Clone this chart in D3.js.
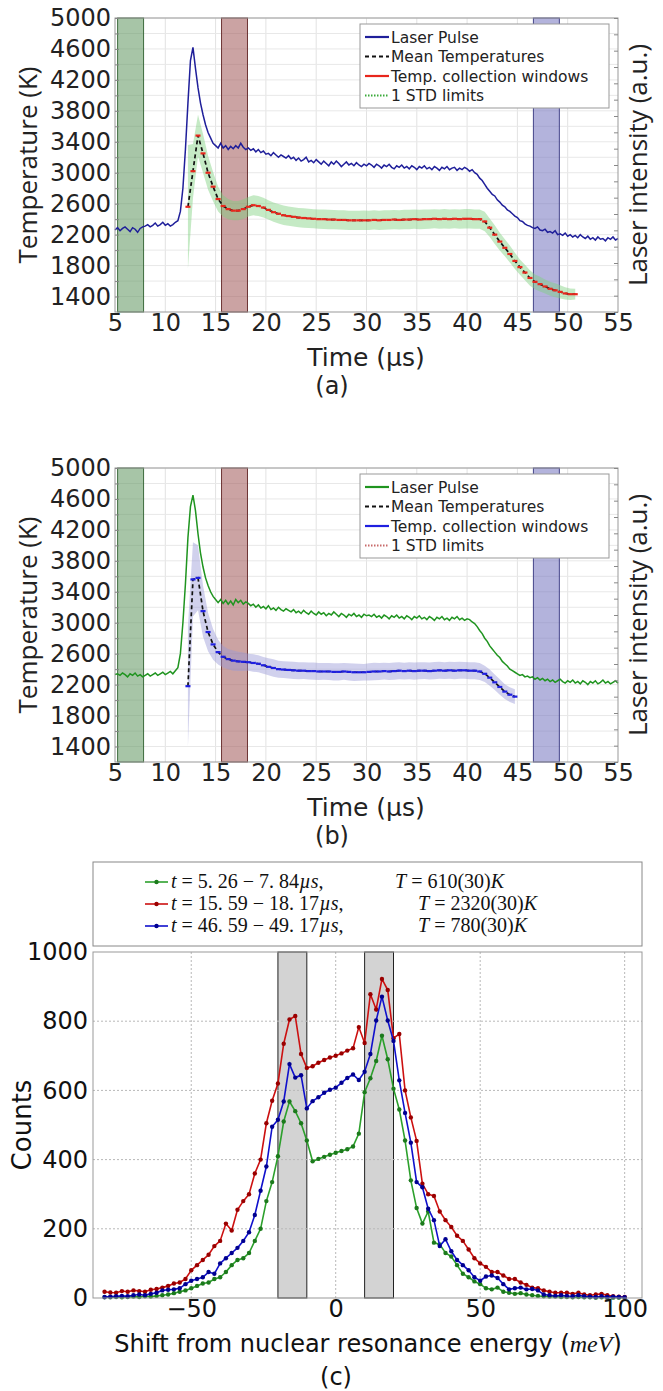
<!DOCTYPE html>
<html>
<head>
<meta charset="utf-8">
<script src="https://cdn.jsdelivr.net/npm/d3@7"></script>
<style>
body { margin: 0; background: #fff; }
svg { display: block; }
</style>
</head>
<body>
<svg id="fig" width="663" height="1391"></svg>
<script>
// ---------------- data ----------------
// laser pulse traces, every 0.25 us from 5 to 55 us (in temperature units of the left axis)
var laserA = [2260, 2290, 2250, 2280, 2300, 2270, 2240, 2290, 2270, 2230, 2280, 2300, 2310, 2330, 2300, 2320, 2350, 2310, 2330, 2360, 2320, 2340, 2310, 2330, 2360, 2380,
    2500, 2800, 3300, 3900, 4450, 4620, 4350, 4100, 3900, 3750, 3620, 3520, 3450, 3380, 3350, 3320, 3380, 3320, 3350, 3300, 3340, 3310, 3350, 3320, 3380, 3330, 3300,
    3320, 3290, 3310, 3270, 3300, 3260, 3280, 3240, 3250, 3220, 3260, 3230, 3200, 3230, 3210, 3190,
    3220, 3180, 3200, 3160, 3190, 3150, 3170, 3200, 3140, 3160, 3130, 3170, 3140, 3110, 3150, 3120, 3090, 3140, 3110, 3150, 3120, 3080, 3110, 3140, 3100, 3120, 3090, 3130, 3100, 3080, 3110, 3090,
    3120, 3100, 3070, 3110, 3090, 3060, 3100, 3080, 3110, 3070, 3050, 3090, 3070, 3100, 3060, 3080, 3050, 3090, 3070, 3040, 3080, 3060, 3090, 3050, 3070, 3040, 3080, 3060, 3030, 3070, 3050, 3080, 3040, 3060, 3070, 3030, 3060, 3040, 3070, 3050,
    3020, 3040, 3000, 2980, 2930, 2900, 2850, 2800,
    2760, 2720, 2700, 2650, 2620, 2580, 2560, 2520, 2500, 2470, 2440, 2420, 2380, 2370, 2340, 2320,
    2310, 2290, 2280, 2300, 2260, 2250, 2270, 2230, 2240, 2220, 2250, 2200, 2210, 2190, 2220, 2180, 2200, 2170, 2190, 2160, 2200, 2170, 2150, 2180, 2140, 2160, 2130, 2170, 2140, 2150, 2120, 2160, 2140, 2170, 2130, 2150];

var laserB = [2330, 2340, 2320, 2350, 2330, 2300, 2340, 2320, 2350, 2310, 2330, 2300, 2320, 2340, 2310, 2330, 2350, 2320, 2340, 2360, 2330, 2350, 2370, 2340, 2380, 2420,
    2600, 3000, 3500, 4100, 4500, 4650, 4450, 4150, 3900, 3720, 3580, 3480, 3400, 3340, 3300, 3260, 3300, 3250, 3290, 3240, 3280, 3230, 3300, 3260, 3290, 3240, 3270,
    3250, 3220, 3240, 3200, 3230, 3190, 3210, 3180, 3220, 3170, 3190, 3160, 3200, 3170, 3150, 3180,
    3160, 3140, 3170, 3130, 3150, 3120, 3160, 3130, 3110, 3150, 3120, 3100, 3140, 3110, 3130, 3090, 3120, 3100, 3140, 3110, 3080, 3120, 3100, 3070, 3110, 3090, 3120, 3080, 3100, 3070, 3110, 3090,
    3100, 3080, 3110, 3070, 3090, 3060, 3100, 3080, 3050, 3090, 3070, 3100, 3060, 3080, 3050, 3090, 3070, 3040, 3080, 3060, 3090, 3050, 3070, 3040, 3080, 3060, 3030, 3070, 3050, 3080, 3040, 3060, 3030, 3070, 3050, 3080, 3040, 3060, 3030, 3050,
    3040, 3010, 2990, 2950, 2900, 2860, 2800, 2760,
    2700, 2660, 2620, 2580, 2550, 2500, 2470, 2440, 2400, 2380, 2360, 2340, 2320, 2330, 2300, 2310,
    2290, 2300, 2270, 2290, 2260, 2280, 2250, 2270, 2240, 2260, 2230, 2250, 2270, 2240, 2220, 2250, 2230, 2260, 2220, 2240, 2210, 2250, 2230, 2200, 2240, 2220, 2250, 2210, 2230, 2260, 2220, 2240, 2210, 2230, 2250, 2220];

var laserTimes = laserA.map(function (d, i) { return 5 + 0.25 * i; });

// mean temperatures (one per collection window, every 0.5 us) and their 1 STD
var meanA = [2560, 3020, 3480, 3250, 3000, 2820, 2660, 2570, 2530, 2510,
    2510, 2530, 2560, 2580, 2570, 2550, 2520, 2490, 2470, 2450,
    2440, 2430, 2420, 2415, 2410, 2405, 2400, 2400, 2395, 2395,
    2390, 2390, 2385, 2385, 2385, 2385, 2385, 2390, 2385, 2390,
    2390, 2395, 2390, 2395, 2395, 2400, 2395, 2400, 2400, 2405,
    2400, 2405, 2400, 2405, 2400, 2405, 2405, 2400, 2400, 2370,
    2290, 2200, 2110, 2030, 1950, 1860, 1780, 1710, 1640, 1590,
    1560, 1530, 1500, 1480, 1460, 1440, 1430, 1430];
var stdA = [800, 350, 270, 250, 220, 190, 160, 140, 130, 125,
    125, 128, 126, 130, 130, 127, 125, 124, 125, 126,
    125, 124, 125, 126, 125, 124, 125, 126, 125, 124,
    125, 126, 125, 124, 125, 126, 125, 124, 125, 126,
    125, 124, 125, 126, 125, 124, 125, 126, 125, 124,
    125, 126, 125, 124, 125, 126, 125, 124, 125, 125,
    120, 120, 115, 110, 110, 105, 100, 100, 100, 95,
    95, 90, 90, 90, 85, 80, 75, 70];
var meanTimesA = meanA.map(function (d, i) { return 12.25 + 0.5 * i; });

var meanB = [2180, 3560, 3580, 3150, 2880, 2720, 2620, 2560, 2530, 2510,
    2500, 2495, 2490, 2480, 2470, 2450, 2430, 2415, 2400, 2395,
    2390, 2385, 2380, 2380, 2375, 2375, 2370, 2370, 2370, 2365,
    2365, 2370, 2365, 2360, 2360, 2360, 2365, 2370, 2370, 2375,
    2370, 2375, 2380, 2375, 2380, 2375, 2380, 2380, 2375, 2380,
    2385, 2380, 2385, 2380, 2385, 2385, 2380, 2380, 2370, 2340,
    2290, 2230, 2170, 2110, 2070, 2045];
var stdB = [780, 480, 420, 330, 250, 200, 160, 140, 130, 130,
    125, 120, 110, 112, 110, 108, 110, 112, 110, 108,
    110, 112, 110, 108, 110, 112, 110, 108, 110, 112,
    110, 108, 110, 112, 110, 108, 110, 112, 110, 108,
    110, 112, 110, 108, 110, 112, 110, 108, 110, 112,
    110, 108, 110, 112, 110, 108, 110, 110, 110, 105,
    105, 100, 100, 95, 95, 95];
var meanTimesB = meanB.map(function (d, i) { return 12.25 + 0.5 * i; });

// temperature collection windows (us)
var windowStarts = [5.26, 15.59, 46.59];
var windowEnds = [7.84, 18.17, 49.17];

var timeTicks = [5, 10, 15, 20, 25, 30, 35, 40, 45, 50, 55];
var tempTicks = [1400, 1800, 2200, 2600, 3000, 3400, 3800, 4200, 4600, 5000];
var tempGrid = d3.range(1400, 5001, 200);
var legendNames = ["Laser Pulse", "Mean Temperatures", "Temp. collection windows", "1 STD limits"];

// panel (c): counts per energy shift
var shifts = d3.range(-80, 101, 2);
var countsGreen = [2, 2, 3, 2, 3, 4, 3, 5, 4, 6,
    8, 10, 14, 18, 22, 28, 35, 42, 45, 55,
    60, 75, 95, 110, 115, 130, 165, 200, 280, 335,
    410, 510, 568, 540, 505, 455, 395, 402, 408, 414,
    420, 425, 430, 438, 475, 595, 635, 685, 758, 690,
    605, 545, 455, 340, 260, 215, 250, 160, 155, 130,
    120, 95, 70, 60, 48, 40, 28, 25, 30, 18,
    15, 12, 14, 10, 8, 6, 5, 4, 4, 3,
    3, 2, 3, 2, 2, 1, 2, 1, 1, 1,
    1];
var countsRed = [18, 16, 15, 20, 18, 22, 20, 18, 24, 26,
    30, 35, 42, 45, 55, 80, 95, 110, 125, 150,
    165, 215, 195, 255, 280, 300, 360, 400, 505, 570,
    620, 735, 805, 815, 705, 665, 670, 680, 688, 695,
    700, 707, 715, 722, 783, 737, 878, 834, 922, 890,
    751, 763, 600, 522, 454, 330, 300, 295, 250, 225,
    205, 180, 165, 140, 115, 100, 90, 75, 75, 65,
    55, 55, 45, 38, 30, 28, 22, 18, 15, 15,
    15, 12, 15, 10, 8, 10, 12, 8, 5, 4,
    3];
var countsBlue = [3, 4, 5, 6, 5, 8, 10, 8, 12, 15,
    22, 24, 25, 28, 40, 50, 55, 60, 75, 70,
    100, 115, 130, 145, 165, 190, 240, 310, 380, 495,
    515, 568, 676, 637, 644, 548, 569, 580, 593, 602,
    608, 622, 636, 646, 630, 654, 705, 802, 871, 802,
    743, 629, 535, 449, 335, 320, 258, 225, 150, 170,
    135, 110, 95, 80, 60, 50, 62, 65, 58, 40,
    25, 28, 30, 25, 26, 22, 10, 8, 6, 8,
    6, 5, 8, 5, 4, 3, 5, 3, 4, 3,
    2];
var shadeStarts = [-20, 10];
var shadeEnds = [-10, 20];
var shiftTicks = [-50, 0, 50, 100];
var countTicks = [0, 200, 400, 600, 800, 1000];

var legendTimes = ["5. 26 \u2212 7. 84", "15. 59 \u2212 18. 17", "46. 59 \u2212 49. 17"];
var legendTemps = ["610(30)", "2320(30)", "780(30)"];

// ---------------- drawing ----------------
var svg = d3.select("#fig");
svg.append("rect").attr("width", 663).attr("height", 1391).attr("fill", "#fff");

var sans = "'Open Sans', 'DejaVu Sans', sans-serif";
var dv = "'DejaVu Sans', sans-serif";

function tempPanel(top, cfg) {
    var H = 294;
    var x = d3.scaleLinear().domain([5, 55]).range([115, 618]);
    var y = d3.scaleLinear().domain([1200, 5000]).range([top + H, top]);
    var yR = d3.scaleLinear().domain([0, 18]).range([top + H, top]);
    var g = svg.append("g");

    // grid
    g.selectAll("line.vgrid").data(timeTicks.slice(1, -1)).join("line")
        .attr("class", "vgrid")
        .attr("x1", x).attr("x2", x).attr("y1", top).attr("y2", top + H)
        .style("stroke", "#e2e2e2");
    g.selectAll("line.hgrid").data(tempGrid).join("line")
        .attr("class", "hgrid")
        .attr("x1", 115).attr("x2", 618).attr("y1", y).attr("y2", y)
        .style("stroke", "#e8e8e8");

    // collection windows
    g.selectAll("rect.win").data(windowStarts).join("rect")
        .attr("class", "win")
        .attr("x", function (d) { return x(d); })
        .attr("width", function (d, i) { return x(windowEnds[i]) - x(d); })
        .attr("y", top).attr("height", H)
        .style("fill", function (d, i) { return cfg.winColors[i]; })
        .style("fill-opacity", 0.55)
        .style("stroke", function (d, i) { return cfg.winEdges[i]; })
        .style("stroke-width", 1);

    // std band
    var band = d3.area()
        .x(function (d, i) { return x(cfg.times[i]); })
        .y0(function (d, i) { return y(d - cfg.std[i]); })
        .y1(function (d, i) { return y(d + cfg.std[i]); });
    g.append("path").datum(cfg.mean).attr("d", band)
        .style("fill", cfg.bandColor).style("fill-opacity", 0.45)
        .style("stroke", "none");

    // laser pulse
    var laserLine = d3.line()
        .x(function (d, i) { return x(laserTimes[i]); })
        .y(function (d) { return y(d); });
    g.append("path").datum(cfg.laser).attr("d", laserLine)
        .style("fill", "none").style("stroke", cfg.laserColor).style("stroke-width", 1.5);

    // mean temperatures, dashed
    var meanLine = d3.line()
        .x(function (d, i) { return x(cfg.times[i]); })
        .y(function (d) { return y(d); });
    g.append("path").datum(cfg.mean).attr("d", meanLine)
        .style("fill", "none").style("stroke", "#111").style("stroke-width", 1.7)
        .style("stroke-dasharray", "4,3");

    // temperature collection windows: one segment per window
    g.selectAll("line.tw").data(cfg.mean).join("line")
        .attr("class", "tw")
        .attr("x1", function (d, i) { return x(cfg.times[i] - 0.25); })
        .attr("x2", function (d, i) { return x(cfg.times[i] + 0.25); })
        .attr("y1", function (d) { return y(d); })
        .attr("y2", function (d) { return y(d); })
        .style("stroke", cfg.twColor).style("stroke-width", 2.2);

    // frame
    g.append("rect").attr("x", 115).attr("y", top).attr("width", 503).attr("height", H)
        .style("fill", "none").style("stroke", "#999").style("stroke-width", 1);

    // left ticks (inward, every 200 K)
    g.append("g").attr("transform", "translate(115,0)")
        .call(d3.axisRight(y).tickValues(tempGrid).tickSize(4).tickFormat(""))
        .call(function (s) { s.select(".domain").remove(); s.selectAll("line").style("stroke", "#888"); });
    // right ticks for laser intensity
    g.append("g").attr("transform", "translate(618,0)")
        .call(d3.axisLeft(yR).ticks(18).tickSize(4).tickFormat(""))
        .call(function (s) { s.select(".domain").remove(); s.selectAll("line").style("stroke", "#888"); });

    // tick labels
    var yAx = g.append("g").attr("transform", "translate(113,0)")
        .call(d3.axisLeft(y).tickValues(tempTicks).tickSize(0).tickPadding(2).tickFormat(d3.format("d")));
    yAx.select(".domain").remove();
    yAx.selectAll("text").style("font-family", dv).style("font-size", "24px").style("fill", "#222");

    var xAx = g.append("g").attr("transform", "translate(0," + (top + H) + ")")
        .call(d3.axisBottom(x).tickValues(timeTicks).tickSize(0).tickPadding(2));
    xAx.select(".domain").remove();
    xAx.selectAll("text").style("font-family", dv).style("font-size", "24px").style("fill", "#222");

    // axis titles
    g.append("text").attr("transform", "translate(37," + (top + H / 2) + ") rotate(-90)")
        .attr("text-anchor", "middle").style("font-family", sans).style("font-size", "26px")
        .style("fill", "#222").text("Temperature (K)");
    g.append("text").attr("transform", "translate(647," + (top + H / 2) + ") rotate(-90)")
        .attr("text-anchor", "middle").style("font-family", sans).style("font-size", "26px")
        .style("fill", "#222").text("Laser intensity (a.u.)");
    g.append("text").attr("x", 366).attr("y", top + H + 54)
        .attr("text-anchor", "middle").style("font-family", dv).style("font-size", "25px")
        .style("fill", "#222").text("Time (\u00b5s)");
    g.append("text").attr("x", 332).attr("y", top + H + 82)
        .attr("text-anchor", "middle").style("font-family", dv).style("font-size", "24px")
        .style("fill", "#222").text(cfg.label);

    // legend
    var lg = g.append("g").attr("transform", "translate(360," + (top + 6) + ")");
    lg.append("rect").attr("width", 249).attr("height", 84)
        .style("fill", "#fff").style("stroke", "#999");
    var lc = [cfg.laserColor, "#111", cfg.twColor, cfg.stdDots];
    var ld = [null, "4,3", null, "1.5,1.5"];
    legendNames.forEach(function (n, i) {
        var yy = 13 + i * 19.5;
        lg.append("line").attr("x1", 5).attr("x2", 29).attr("y1", yy).attr("y2", yy)
            .style("stroke", lc[i]).style("stroke-width", 2.2)
            .style("stroke-dasharray", ld[i]);
        lg.append("text").attr("x", 31).attr("y", yy + 5.5)
            .style("font-family", dv).style("font-size", "15.5px").style("fill", "#222").text(n);
    });
}

tempPanel(18, {
    laser: laserA, mean: meanA, std: stdA, times: meanTimesA,
    laserColor: "#1f1f9a", twColor: "#e8261c", bandColor: "#7fd07f", stdDots: "#3aaa3a",
    winColors: ["#5f955f", "#a05858", "#7575c0"], winEdges: ["#3d6b3d", "#6d3535", "#45458a"],
    label: "(a)"
});
tempPanel(468, {
    laser: laserB, mean: meanB, std: stdB, times: meanTimesB,
    laserColor: "#1f941f", twColor: "#1f1fe0", bandColor: "#9a9ad8", stdDots: "#c86a6a",
    winColors: ["#5f955f", "#a05858", "#7575c0"], winEdges: ["#3d6b3d", "#6d3535", "#45458a"],
    label: "(b)"
});

// ---------------- panel (c) ----------------
(function () {
    var top = 952, bottom = 1298, left = 93, right = 642;
    var x = d3.scaleLinear().domain([-84, 106]).range([left, right]);
    var y = d3.scaleLinear().domain([0, 1000]).range([bottom, top]);
    var g = svg.append("g");

    g.selectAll("rect.shade").data(shadeStarts).join("rect")
        .attr("class", "shade")
        .attr("x", function (d) { return x(d); })
        .attr("width", function (d, i) { return x(shadeEnds[i]) - x(d); })
        .attr("y", top).attr("height", bottom - top)
        .style("fill", "#d3d3d3").style("stroke", "#222").style("stroke-width", 1);

    g.selectAll("line.vg").data(shiftTicks).join("line")
        .attr("class", "vg")
        .attr("x1", x).attr("x2", x).attr("y1", top).attr("y2", bottom)
        .style("stroke", "#b8b8b8").style("stroke-dasharray", "2,2");
    g.selectAll("line.hg").data(countTicks.slice(1, -1)).join("line")
        .attr("class", "hg")
        .attr("x1", left).attr("x2", right).attr("y1", y).attr("y2", y)
        .style("stroke", "#b8b8b8").style("stroke-dasharray", "2,2");

    var series = [
        { v: countsGreen, c: "#2ca02c", m: "#1c7a1c" },
        { v: countsRed, c: "#cc1010", m: "#9a0000" },
        { v: countsBlue, c: "#1010cc", m: "#000090" }
    ];
    var line = d3.line()
        .x(function (d, i) { return x(shifts[i]); })
        .y(function (d) { return y(d); });
    series.forEach(function (s) {
        g.append("path").datum(s.v).attr("d", line)
            .style("fill", "none").style("stroke", s.c).style("stroke-width", 1.6);
        g.selectAll(null).data(s.v).join("circle")
            .attr("cx", function (d, i) { return x(shifts[i]); })
            .attr("cy", function (d) { return y(d); })
            .attr("r", 2.2).style("fill", s.m);
    });

    g.append("rect").attr("x", left).attr("y", top).attr("width", right - left).attr("height", bottom - top)
        .style("fill", "none").style("stroke", "#999");

    var yAx = g.append("g").attr("transform", "translate(" + (left - 3) + ",0)")
        .call(d3.axisLeft(y).tickValues(countTicks).tickSize(0).tickPadding(2).tickFormat(d3.format("d")));
    yAx.select(".domain").remove();
    yAx.selectAll("text").style("font-family", dv).style("font-size", "24px").style("fill", "#111");

    var xAx = g.append("g").attr("transform", "translate(0," + bottom + ")")
        .call(d3.axisBottom(x).tickValues(shiftTicks).tickSize(0).tickPadding(2));
    xAx.select(".domain").remove();
    xAx.selectAll("text").style("font-family", dv).style("font-size", "24px").style("fill", "#111");

    g.append("text").attr("transform", "translate(31," + ((top + bottom) / 2) + ") rotate(-90)")
        .attr("text-anchor", "middle").style("font-family", dv).style("font-size", "26px")
        .style("fill", "#111").text("Counts");

    var xt = g.append("text").attr("x", 368).attr("y", 1352)
        .attr("text-anchor", "middle").style("font-family", dv).style("font-size", "24px").style("fill", "#111");
    xt.append("tspan").text("Shift from nuclear resonance energy (");
    xt.append("tspan").style("font-family", "'Liberation Serif', serif").style("font-style", "italic").text("meV");
    xt.append("tspan").text(")");

    g.append("text").attr("x", 336).attr("y", 1385)
        .attr("text-anchor", "middle").style("font-family", dv).style("font-size", "24px")
        .style("fill", "#111").text("(c)");

    // legend
    var lg = g.append("g");
    lg.append("rect").attr("x", left).attr("y", 862).attr("width", right - left).attr("height", 84)
        .style("fill", "#fff").style("stroke", "#888");
    var serif = "'Liberation Serif', 'DejaVu Serif', serif";
    var tCol = [395, 418, 418];
    series.forEach(function (s, i) {
        var yy = 882 + i * 22;
        lg.append("line").attr("x1", 145).attr("x2", 168).attr("y1", yy).attr("y2", yy)
            .style("stroke", s.c).style("stroke-width", 1.6);
        lg.append("circle").attr("cx", 156.5).attr("cy", yy).attr("r", 2.2).style("fill", s.m);
        var t1 = lg.append("text").attr("x", 171).attr("y", yy + 6)
            .style("font-family", serif).style("font-size", "20px").style("fill", "#111");
        t1.append("tspan").style("font-style", "italic").text("t");
        t1.append("tspan").text(" = " + legendTimes[i]);
        t1.append("tspan").style("font-style", "italic").text("\u00b5s");
        t1.append("tspan").text(",");
        var t2 = lg.append("text").attr("x", tCol[i]).attr("y", yy + 6)
            .style("font-family", serif).style("font-size", "20px").style("fill", "#111");
        t2.append("tspan").style("font-style", "italic").text("T");
        t2.append("tspan").text(" = " + legendTemps[i]);
        t2.append("tspan").style("font-style", "italic").text("K");
    });
})();
</script>
</body>
</html>
